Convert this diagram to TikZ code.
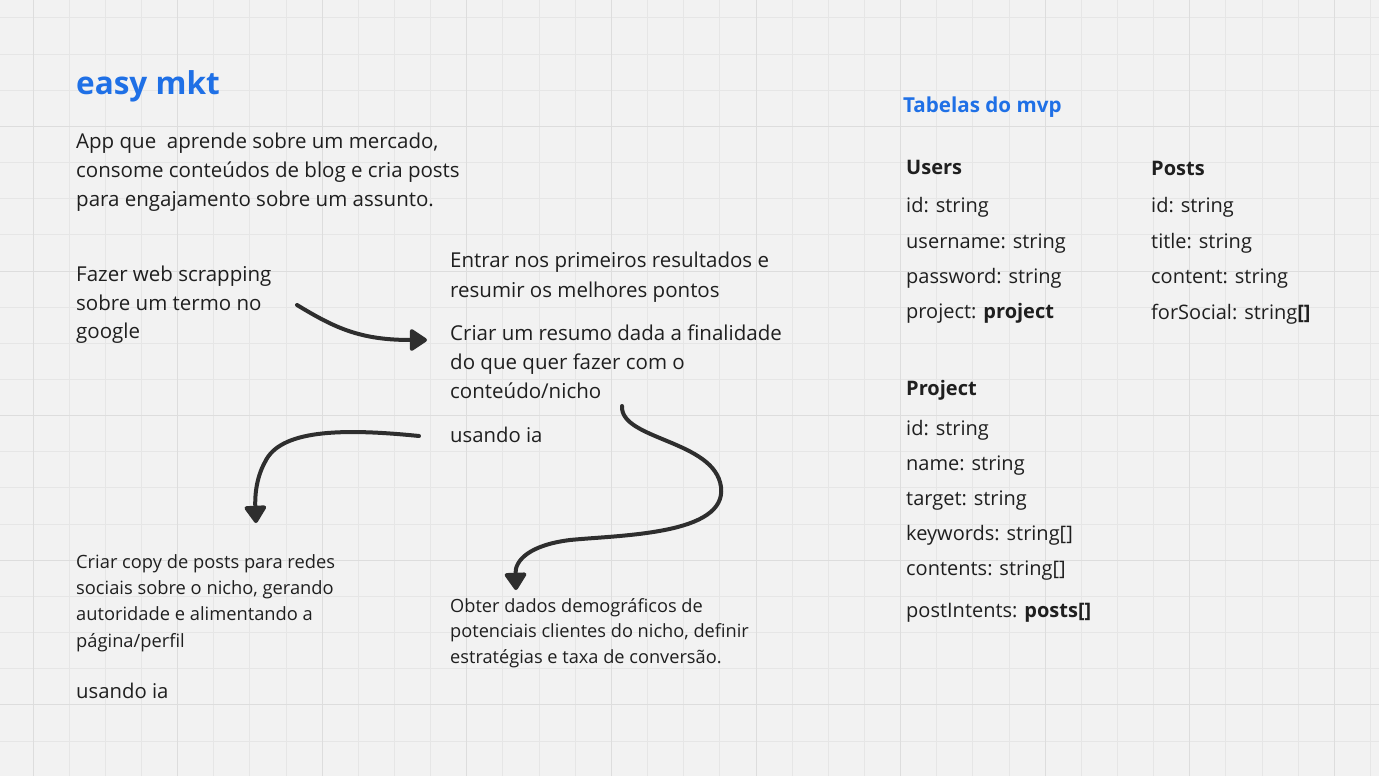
\documentclass[tikz,border=0pt]{standalone}
\usepackage{fontspec}
\setmainfont{Open Sans}
\usetikzlibrary{arrows.meta}
\definecolor{bgc}{HTML}{F2F2F2}
\definecolor{gridc}{HTML}{E6E6E6}
\definecolor{gridm}{HTML}{DDDDDD}
\definecolor{ink}{HTML}{1F1F1F}
\definecolor{blu}{HTML}{1F70E6}
\definecolor{arr}{HTML}{2E2E2E}
\tikzset{
  txt/.style={inner sep=0pt, anchor=base west, align=left, text=ink, font=\fontsize{20}{29}\selectfont},
  big/.style={txt, font=\fontsize{20.5}{29}\selectfont},
  small/.style={txt, font=\fontsize{18.2}{26}\selectfont},
  hd/.style={txt, font=\fontsize{20}{29}\selectfont\bfseries},
  ttl/.style={txt, text=blu, font=\fontsize{31.5}{36}\selectfont\bfseries},
  sub/.style={txt, text=blu, font=\fontsize{20.6}{29}\selectfont\bfseries},
  flow/.style={draw=arr, line width=4pt, line cap=round, -{Triangle[round, length=19pt, width=24pt]}},
}
\begin{document}
\begin{tikzpicture}[x=1pt,y=-1pt]
\fill[bgc] (0,0) rectangle (1379,776);
\useasboundingbox (0,0) rectangle (1379,776);
\foreach \k in {0,...,37} {\draw[gridc, line width=1pt] ({33+36.15*\k},0) -- ({33+36.15*\k},776);}
\foreach \k in {0,...,21} {\draw[gridc, line width=1pt] (0,{18+36.15*\k}) -- (1379,{18+36.15*\k});}
\foreach \k in {0,4,...,36} {\draw[gridm, line width=1pt] ({33+36.15*\k},0) -- ({33+36.15*\k},776);}
\foreach \k in {3,7,...,19} {\draw[gridm, line width=1pt] (0,{18+36.15*\k}) -- (1379,{18+36.15*\k});}

% left column (base anchor = baseline of the last line)
\node[ttl] (title) at (76,94) {easy mkt};
\node[big] (intro) at (76,206) {App que \ aprende sobre um mercado,\\consome conteúdos de blog e cria posts\\para engajamento sobre um assunto.};
\node[big, font=\fontsize{20.5}{28.3}\selectfont] (scrap) at (76,338.3) {Fazer web scrapping\\sobre um termo no\\google};
\node[big, font=\fontsize{20.5}{30}\selectfont] (enter) at (450,297) {Entrar nos primeiros resultados e\\resumir os melhores pontos};
\node[big] (resumo) at (450,398) {Criar um resumo dada a finalidade\\do que quer fazer com o\\conteúdo/nicho};
\node[txt, font=\fontsize{20.3}{29}\selectfont] (ia1) at (450,442) {usando ia};
\node[small, font=\fontsize{18.3}{26.3}\selectfont] (copy) at (76,647) {Criar copy de posts para redes\\sociais sobre o nicho, gerando\\autoridade e alimentando a\\página/perfil};
\node[txt, font=\fontsize{20.3}{29}\selectfont] (ia2) at (76,698) {usando ia};
\node[small, font=\fontsize{18.2}{25.5}\selectfont] (demo) at (450,663) {Obter dados demográficos de\\potenciais clientes do nicho, definir\\estratégias e taxa de conversão.};

% tables
\node[sub] (tab) at (903,112) {Tabelas do mvp};
\node[hd] (users) at (906,174) {Users};
\node[txt] (u1) at (906,212) {id: string};
\node[txt] (u2) at (906,248) {username: string};
\node[txt] (u3) at (906,283) {password: string};
\node[txt] (u4) at (906,318) {project: \textbf{project}};
\node[hd] (posts) at (1151,175) {Posts};
\node[txt] (p1) at (1151,212) {id: string};
\node[txt] (p2) at (1151,248) {title: string};
\node[txt] (p3) at (1151,283) {content: string};
\node[txt] (p4) at (1151,319) {forSocial: string\textbf{[]}};
\node[hd] (proj) at (906,395) {Project};
\node[txt] (r1) at (906,435) {id: string};
\node[txt] (r2) at (906,470) {name: string};
\node[txt] (r3) at (906,505) {target: string};
\node[txt] (r4) at (906,540) {keywords: string[]};
\node[txt] (r5) at (906,575) {contents: string[]};
\node[txt] (r6) at (906,617) {postIntents: \textbf{posts[]}};

% arrows
\coordinate (a1s) at (297,305);
\coordinate (a1e) at (427,340);
\draw[flow] (a1s) .. controls (335,328) and (360,340) .. (a1e);
\coordinate (a2s) at (419,436);
\coordinate (a2m) at (265,462);
\coordinate (a2e) at (256,523);
\draw[flow] (a2s) .. controls (340,428) and (280,430) .. (a2m) .. controls (255,480) and (255,500) .. (a2e);
\coordinate (a3s) at (622,406);
\coordinate (a3m) at (721,487);
\coordinate (a3n) at (570,540);
\coordinate (a3e) at (516,590);
\draw[flow] (a3s) .. controls (620,440) and (715,440) .. (a3m) .. controls (727,535) and (620,535) .. (a3n) .. controls (530,545) and (515,560) .. (a3e);
\end{tikzpicture}
\end{document}
